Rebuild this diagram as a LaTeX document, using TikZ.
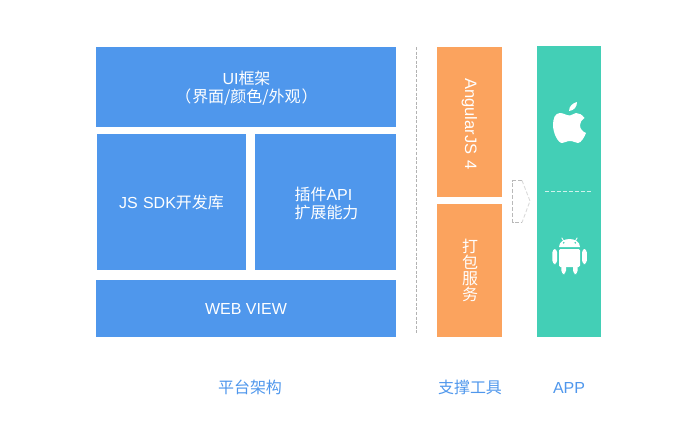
\documentclass[tikz,border=0pt]{standalone}
\usepackage{fontspec}
\setmainfont{Liberation Sans}
\newfontfamily\cjk{Noto Sans CJK SC}
\definecolor{layerblue}{HTML}{4F97EC}
\definecolor{toolorange}{HTML}{FBA35E}
\definecolor{appteal}{HTML}{43CFB6}
\tikzset{
	box/.style={inner sep=0pt, text=white, align=center, font=\fontsize{9.1}{10.2}\selectfont},
	bluebox/.style={box, fill=layerblue},
	orangebox/.style={box, fill=toolorange},
	caption/.style={inner sep=0pt, text=layerblue, font=\fontsize{9.1}{10.2}\selectfont},
	fineline/.style={dash pattern=on 2.2pt off 1.2pt, line width=0.5pt}
}

\begin{document}
\begin{tikzpicture}[x=0.02cm, y=-0.02cm]
		\useasboundingbox (0,0) rectangle (700,420);

		% Platform layers
		\node[bluebox, minimum width=6cm, minimum height=1.6cm] (ui) at (246,87) {};
		\node[box] (uiText) at (246.5,88) {UI{\cjk 框架}\\{\cjk （\kern0.5pt 界面/颜色/外观\kern0.5pt ）}};
		\node[bluebox, minimum width=2.98cm, minimum height=2.72cm] (sdk) at (171.5,202) {};
		\node[box] (sdkText) at (171.5,202.5) {JS\hspace{0.5pt} SDK{\cjk 开发库}};
		\node[bluebox, minimum width=2.82cm, minimum height=2.72cm] (plugin) at (325.5,202) {};
		\node[box, align=left] (pluginText) at (326.5,203) {{\cjk 插件}API\\{\cjk 扩展能力}};
		\node[bluebox, minimum width=6cm, minimum height=1.14cm] (webview) at (246,308.5) {WEB VIEW};

		% Separator
		\coordinate (sepTop) at (416.5,47);
		\coordinate (sepBottom) at (416.5,333);
		\draw[gray!60, dash pattern=on 1.7pt off 0.9pt, line width=0.4pt] (sepTop) -- (sepBottom);

		% Tools
		\node[orangebox, minimum width=1.3cm, minimum height=3cm] (angular) at (469.5,122) {};
		\node[box, rotate=-90, font=\fontsize{9.4}{10.2}\selectfont] (angularText) at (469.5,124) {AngularJS\hspace{1pt} 4};
		\node[orangebox, minimum width=1.3cm, minimum height=2.66cm] (pack) at (469.5,270.5) {};
		\node[box, font=\fontsize{9.1}{9.1}\selectfont] (packText) at (470,270) {\cjk 打\\\cjk 包\\\cjk 服\\\cjk 务};

		% Arrow between tools and app
		\draw[gray!55, fineline] (522,180.5) -- (512.5,180.5) -- (512.5,222.5) -- (522,222.5);
		\draw[gray!30, fineline] (522,180.5) -- (530,201) -- (522,222.5);

		% App column
		\node[fill=appteal, inner sep=0pt, minimum width=1.28cm, minimum height=5.82cm] (app) at (569,191.5) {};
		\draw[white!75!appteal, fineline] (545,191) -- (591,191);

		% Apple
		\fill[white] (570,115.5) .. controls (566,115.5) and (564,113) .. (560,113)
			.. controls (555,113) and (553,118.5) .. (553,125)
			.. controls (553,133) and (558,143) .. (562,143)
			.. controls (565,143) and (566,141) .. (570,141)
			.. controls (574,141) and (575,143) .. (578,143)
			.. controls (581,143) and (584.5,137) .. (586,133)
			.. controls (582,131.5) and (580,128.5) .. (580,125)
			.. controls (580,122) and (582,119.5) .. (584.5,118)
			.. controls (582,114.5) and (579,113) .. (576,113)
			.. controls (574,113) and (572,115.5) .. (570,115.5) -- cycle;
		\fill[white] (569,111) .. controls (569,106) and (573,103) .. (577,102)
			.. controls (577,107) and (574,110.5) .. (569,111) -- cycle;

		% Android
		\fill[white] (559,247) .. controls (559,242) and (564,239) .. (569.5,239)
			.. controls (575,239) and (580,242) .. (580,247) -- cycle;
		\draw[white, line width=0.5pt] (561.7,237.7) -- (564,241.5) (577.3,237.7) -- (575,241.5);
		\fill[appteal] (563.7,242.8) circle (0.9) (575.3,242.8) circle (0.9);
		\fill[white, rounded corners=0.8] (559,249) rectangle (580,267);
		\fill[white, rounded corners=2] (552.3,249) rectangle (557.2,264);
		\fill[white, rounded corners=2] (582,249) rectangle (586.9,264);
		\fill[white, rounded corners=2] (561.3,262) rectangle (566,274);
		\fill[white, rounded corners=2] (573,262) rectangle (577.7,274);

		% Captions
		\node[caption] (platform) at (250,387) {\cjk 平台架构};
		\node[caption] (tools) at (470,387) {\cjk 支撑工具};
		\node[caption] (appname) at (569,388) {APP};
	\end{tikzpicture}
\end{document}
